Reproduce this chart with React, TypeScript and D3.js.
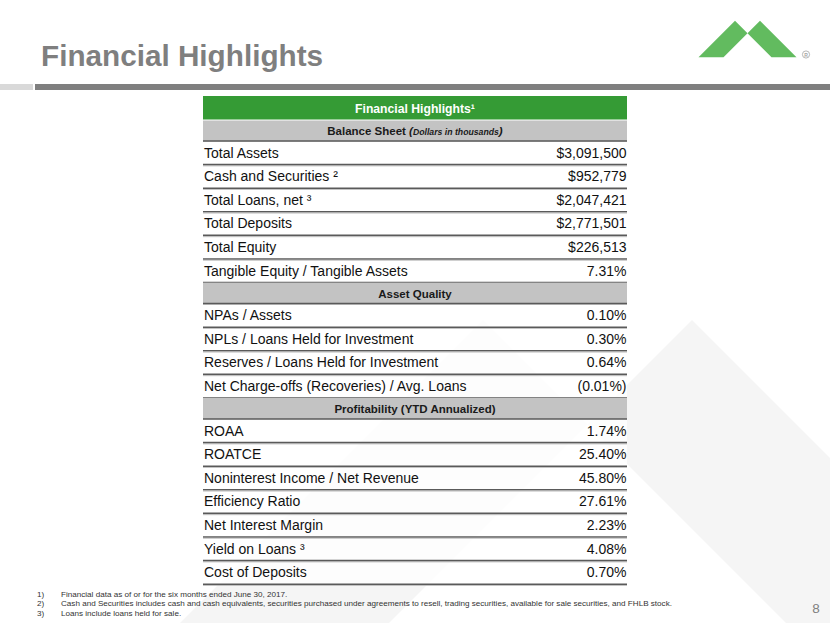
import React from 'react';
import * as d3 from 'd3';

// table content
const sectionTitles = ['Balance Sheet', 'Asset Quality', 'Profitability (YTD Annualized)'];
const balanceLabels = ['Total Assets', 'Cash and Securities ²', 'Total Loans, net ³', 'Total Deposits', 'Total Equity', 'Tangible Equity / Tangible Assets'];
const balanceValues = ['$3,091,500', '$952,779', '$2,047,421', '$2,771,501', '$226,513', '7.31%'];
const qualityLabels = ['NPAs / Assets', 'NPLs / Loans Held for Investment', 'Reserves / Loans Held for Investment', 'Net Charge-offs (Recoveries) / Avg. Loans'];
const qualityValues = ['0.10%', '0.30%', '0.64%', '(0.01%)'];
const profitLabels = ['ROAA', 'ROATCE', 'Noninterest Income / Net Revenue', 'Efficiency Ratio', 'Net Interest Margin', 'Yield on Loans ³', 'Cost of Deposits'];
const profitValues = ['1.74%', '25.40%', '45.80%', '27.61%', '2.23%', '4.08%', '0.70%'];
const footnotes = [
  'Financial data as of or for the six months ended June 30, 2017.',
  'Cash and Securities includes cash and cash equivalents, securities purchased under agreements to resell, trading securities, available for sale securities, and FHLB stock.',
  'Loans include loans held for sale.',
];

const W = 830;
const H = 623;
const FONT = '"Liberation Sans", Arial, Helvetica, sans-serif';

type Row = { kind: 'band' | 'row'; text: string; value?: string; section: number };

const sections = [
  { labels: balanceLabels, values: balanceValues },
  { labels: qualityLabels, values: qualityValues },
  { labels: profitLabels, values: profitValues },
];

const rows: Row[] = [];
sections.forEach((s, i) => {
  rows.push({ kind: 'band', text: sectionTitles[i], section: i });
  s.labels.forEach((l, j) => rows.push({ kind: 'row', text: l, value: s.values[j], section: i }));
});

// logo outline: two 45-degree strokes meeting in a notch
const logoShape = (x0: number, y0: number, k: number) => {
  const h = 1.46 * k;
  const gap = k;
  const notch = [x0 + gap / 2, y0 + gap / 2];
  const left = [[x0, y0], notch, [notch[0] - (h - gap / 2), y0 + h], [x0 - h, y0 + h]];
  const right = [[x0 + gap, y0], [x0 + gap + h, y0 + h], [notch[0] + (h - gap / 2), y0 + h], notch];
  const line = d3.line();
  return [line(left as [number, number][]) + 'Z', line(right as [number, number][]) + 'Z'];
};

export default function App() {
  const x = d3.scaleLinear().domain([0, 1]).range([203, 627]);
  const heights = rows.map((r) => (r.kind === 'band' ? 21 : 23.6));
  const tops = [0, ...d3.cumsum(heights)].map((v) => v + 120);

  const bigLogo = logoShape(483, 320, 209);
  const smallLogo = logoShape(735, 20.7, 25);

  return (
    <svg width={W} height={H} style={{ position: 'absolute', left: 0, top: 0, background: '#fff' }} fontFamily={FONT}>
      <rect width={W} height={H} fill="#fff" />
      {/* watermark */}
      {bigLogo.map((d, i) => (
        <path key={i} d={d} fill="#f5f5f5" />
      ))}

      {/* title */}
      <text x={41} y={66} fontSize={29.7} fontWeight="bold" fill="#7f7f7f">Financial Highlights</text>
      <rect x={0} y={84} width={33} height={6} fill="#d9d9d9" />
      <rect x={35} y={84} width={W - 35} height={6} fill="#7f7f7f" />

      {/* logo */}
      {smallLogo.map((d, i) => (
        <path key={i} d={d} fill="#62bb5f" />
      ))}
      <circle cx={806} cy={54.5} r={3.6} fill="none" stroke="#a6a6a6" strokeWidth={0.8} />
      <text x={806} y={56.5} fontSize={5} fontWeight="bold" fill="#a6a6a6" textAnchor="middle">R</text>

      {/* table body backdrop, nearly hides the watermark */}
      <rect x={x(0)} y={120} width={x(1) - x(0)} height={tops[tops.length - 1] - 120} fill="#fff" opacity={0.75} />

      {/* table header */}
      <rect x={x(0)} y={96} width={x(1) - x(0)} height={23.5} fill="#359b35" />
      <text x={(x(0) + x(1)) / 2} y={113} fontSize={12.2} fontWeight="bold" fill="#fff" textAnchor="middle">
        Financial Highlights¹
      </text>

      {rows.map((r, i) => {
        const y0 = tops[i];
        const y1 = tops[i + 1];
        if (r.kind === 'band') {
          return (
            <g key={i}>
              <rect x={x(0)} y={y0 + (i === 0 ? 0.5 : 0)} width={x(1) - x(0)} height={y1 - y0} fill="#c3c3c3" />
              <text x={(x(0) + x(1)) / 2} y={y0 + 15} fontSize={11.5} fontWeight="bold" fill="#1a1a1a" textAnchor="middle">
                {r.text}
                {r.section === 0 && (
                  <>
                    <tspan fontStyle="italic"> (</tspan>
                    <tspan fontStyle="italic" fontSize={8.7}>Dollars in thousands</tspan>
                    <tspan fontStyle="italic">)</tspan>
                  </>
                )}
              </text>
              <line x1={x(0)} x2={x(1)} y1={y1} y2={y1} stroke="#5a5a5a" strokeWidth={1.6} />
            </g>
          );
        }
        return (
          <g key={i}>
            <text x={x(0) + 1} y={y0 + 16.6} fontSize={14} fill="#111">{r.text}</text>
            <text x={x(1) - 0.5} y={y0 + 16.6} fontSize={14} fill="#111" textAnchor="end">{r.value}</text>
            <line x1={x(0)} x2={x(1)} y1={y1} y2={y1} stroke="#5a5a5a" strokeWidth={1.6} />
            <line x1={x(0)} x2={x(1)} y1={y1 + 1.3} y2={y1 + 1.3} stroke="#b5b5b5" strokeWidth={0.8} />
          </g>
        );
      })}

      {/* footnotes */}
      {footnotes.map((f, i) => (
        <g key={i} fontSize={8.1} fill="#333">
          <text x={37} y={596.5 + i * 9.5}>{`${i + 1})`}</text>
          <text x={61} y={596.5 + i * 9.5}>{f}</text>
        </g>
      ))}
      <text x={816} y={613} fontSize={13.5} fill="#808080" textAnchor="middle">8</text>
    </svg>
  );
}
